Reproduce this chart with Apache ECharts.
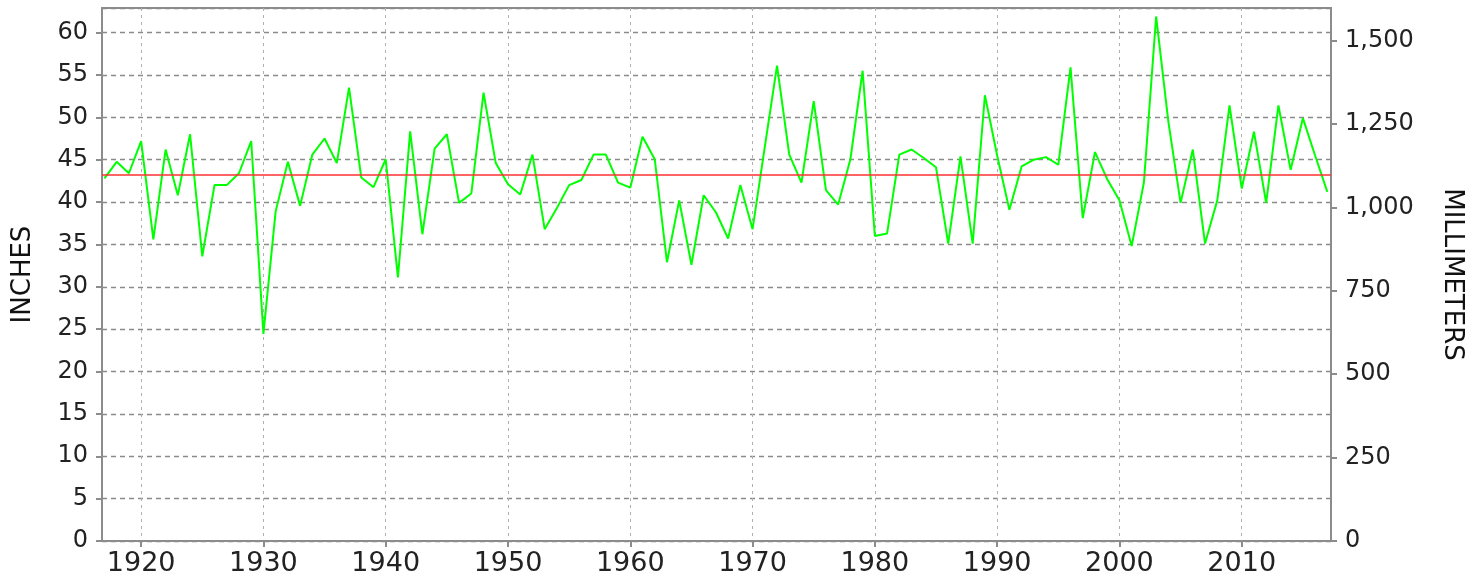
<!DOCTYPE html>
<html>
<head>
<meta charset="utf-8">
<script src="https://cdn.jsdelivr.net/npm/echarts@6/dist/echarts.min.js"></script>
<style>
  html, body { margin: 0; padding: 0; background: #fff; }
  #chart { width: 1481px; height: 583px; }
</style>
</head>
<body>
<div id="chart"></div>
<script>
// yearly precipitation, inches, 1917..2017
const firstYear = 1917;
const inches = [
  42.8, 44.75, 43.4, 47.2, 35.6, 46.2, 40.8, 48.0, 33.6, 42.0,
  42.0, 43.4, 47.2, 24.45, 38.9, 44.75, 39.55, 45.6, 47.5, 44.6,
  53.5, 42.9, 41.75, 45.05, 31.1, 48.35, 36.2, 46.3, 48.0, 39.9,
  41.0, 52.9, 44.6, 42.1, 40.9, 45.6, 36.8, 39.3, 42.0, 42.6,
  45.6, 45.6, 42.3, 41.7, 47.7, 45.05, 32.9, 40.2, 32.6, 40.8,
  38.8, 35.7, 42.0, 36.8, 46.5, 56.1, 45.6, 42.3, 51.9, 41.4,
  39.7, 45.05, 55.5, 36.0, 36.3, 45.6, 46.2, 45.2, 44.1, 35.1,
  45.4, 35.1, 52.6, 45.5, 39.1, 44.2, 45.0, 45.3, 44.4, 55.9,
  38.1, 45.9, 42.7, 40.2, 34.8, 42.3, 61.9, 49.5, 39.9, 46.2,
  35.1, 40.2, 51.4, 41.6, 48.3, 39.9, 51.4, 43.8, 49.9, 45.5,
  41.2
];
const years = inches.map((v, i) => firstYear + i);
const avgInches = 43.23;

// axis ranges
const xMin = 1916.8, xMax = 2017.3;
const inMax = 62.9;
const mmPerInch = 25.4;

const chart = echarts.init(document.getElementById('chart'));

const labelFont = 'DejaVu Sans';
const axisGray = '#8c8c8c';

chart.setOption({
  animation: false,
  grid: {
    left: 102, right: 150, top: 8, bottom: 42,
    show: true, borderColor: axisGray, borderWidth: 2
  },
  xAxis: {
    type: 'value',
    min: xMin, max: xMax,
    splitNumber: 10,
    axisLine: { show: true, lineStyle: { color: axisGray, width: 2 } },
    axisTick: { show: true, length: 6, lineStyle: { color: axisGray, width: 2 } },
    axisLabel: {
      color: '#222', fontFamily: labelFont, fontSize: 27, margin: 9,
      showMinLabel: false, showMaxLabel: false,
      formatter: v => String(v)
    },
    splitLine: { show: true, lineStyle: { color: '#b0b0b0', type: [3, 4], width: 1 } }
  },
  yAxis: [
    {
      type: 'value',
      min: 0, max: inMax, interval: 5,
      name: 'INCHES',
      nameLocation: 'middle',
      nameRotate: 90,
      nameGap: 66,
      nameTextStyle: { color: '#111', fontFamily: labelFont, fontSize: 26 },
      axisLine: { show: true, lineStyle: { color: axisGray, width: 2 } },
      axisTick: { show: true, length: 6, lineStyle: { color: axisGray, width: 2 } },
      axisLabel: {
        color: '#222', fontFamily: labelFont, fontSize: 24, margin: 14,
        showMaxLabel: false
      },
      splitLine: { show: true, lineStyle: { color: '#8a8a8a', type: [5, 4], width: 1.3 } }
    },
    {
      type: 'value',
      position: 'right',
      min: 0, max: inMax * mmPerInch, interval: 250,
      name: 'MILLIMETERS',
      nameLocation: 'middle',
      nameRotate: -90,
      nameGap: 108,
      nameTextStyle: { color: '#111', fontFamily: labelFont, fontSize: 26 },
      axisLine: { show: true, lineStyle: { color: axisGray, width: 2 } },
      axisTick: { show: true, length: 6, lineStyle: { color: axisGray, width: 2 } },
      axisLabel: {
        color: '#222', fontFamily: labelFont, fontSize: 24, margin: 14,
        showMaxLabel: false,
        formatter: v => v.toLocaleString('en-US')
      },
      splitLine: { show: false }
    }
  ],
  series: [
    {
      name: 'Precipitation',
      type: 'line',
      yAxisIndex: 0,
      data: years.map((y, i) => [y, inches[i]]),
      showSymbol: false,
      lineStyle: { color: '#00ff00', width: 2 },
      itemStyle: { color: '#00ff00' },
      z: 3,
      markLine: {
        silent: true,
        symbol: 'none',
        label: { show: false },
        lineStyle: { color: '#ff3030', type: 'solid', width: 1.5 },
        data: [{ yAxis: avgInches }]
      }
    }
  ]
});
</script>
</body>
</html>
